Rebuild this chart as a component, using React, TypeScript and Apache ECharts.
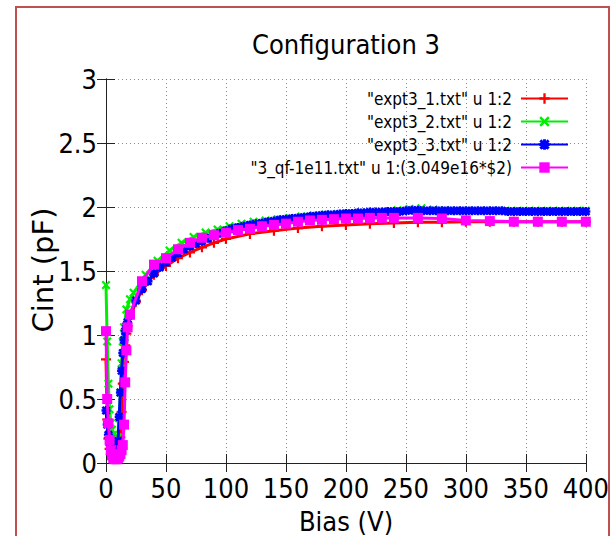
import React, { useEffect, useRef } from "react";
import * as echarts from "echarts";

const chartTitle = "Configuration 3";
const xAxisTitle = "Bias (V)";
const yAxisTitle = "Cint (pF)";
const seriesNames = [
  '"expt3_1.txt" u 1:2',
  '"expt3_2.txt" u 1:2',
  '"expt3_3.txt" u 1:2',
  '"3_qf-1e11.txt" u 1:(3.049e16*$2)',
];

const expt1Bias = [0, 1, 2, 3, 4, 5, 6, 7, 8, 9, 10, 11, 12, 13, 14, 15, 16, 17, 18, 20, 25, 30, 40, 50, 60, 70, 80, 90, 100, 120, 140, 160, 180, 200, 220, 240, 260, 280, 300, 320, 340, 360, 380, 400];
const expt1Cint = [0.81, 0.34, 0.19, 0.11, 0.07, 0.05, 0.04, 0.04, 0.04, 0.05, 0.07, 0.11, 0.2, 0.4, 0.62, 0.79, 0.92, 1.01, 1.07, 1.13, 1.26, 1.35, 1.47, 1.54, 1.6, 1.645, 1.685, 1.72, 1.75, 1.79, 1.815, 1.835, 1.85, 1.86, 1.87, 1.875, 1.88, 1.88, 1.885, 1.885, 1.885, 1.885, 1.885, 1.885];

const expt2Bias = [0, 1, 2, 3, 4, 5, 6, 7, 8, 9, 10, 11, 12, 13, 14, 15, 17, 20, 23, 33, 43, 53, 63, 73, 83, 93, 103, 113, 123, 133, 143, 153, 163, 173, 183, 193, 203, 213, 223, 233, 243, 253, 263, 273, 283, 293, 303, 313, 323, 333, 343, 353, 363, 373, 383, 393, 400];
const expt2Cint = [1.39, 0.95, 0.62, 0.42, 0.31, 0.26, 0.22, 0.19, 0.16, 0.15, 0.2, 0.35, 0.55, 0.78, 0.95, 1.06, 1.2, 1.28, 1.33, 1.47, 1.58, 1.66, 1.72, 1.765, 1.8, 1.825, 1.85, 1.87, 1.885, 1.895, 1.905, 1.915, 1.925, 1.935, 1.94, 1.945, 1.95, 1.955, 1.96, 1.965, 1.975, 1.985, 1.99, 1.98, 1.975, 1.97, 1.97, 1.97, 1.97, 1.97, 1.97, 1.97, 1.97, 1.97, 1.97, 1.97, 1.97];

const expt3Bias = [0, 1, 2, 3, 4, 5, 6, 7, 8, 9, 10, 11, 12, 13, 14, 15, 16, 17, 18, 20, 25, 30, 35, 40, 45, 50, 55, 60, 65, 70, 75, 80, 85, 90, 95, 100, 105, 110, 115, 120, 125, 130, 135, 140, 145, 150, 155, 160, 165, 170, 175, 180, 185, 190, 195, 200, 205, 210, 215, 220, 225, 230, 235, 240, 245, 250, 255, 260, 265, 270, 275, 280, 285, 290, 295, 300, 305, 310, 315, 320, 325, 330, 335, 340, 345, 350, 355, 360, 365, 370, 375, 380, 385, 390, 395, 400];
const expt3Cint = [0.41, 0.3, 0.22, 0.16, 0.12, 0.1, 0.09, 0.08, 0.08, 0.09, 0.17, 0.36, 0.55, 0.72, 0.86, 0.96, 1.03, 1.07, 1.1, 1.16, 1.27, 1.36, 1.42, 1.48, 1.53, 1.57, 1.605, 1.64, 1.67, 1.695, 1.715, 1.735, 1.755, 1.775, 1.795, 1.815, 1.83, 1.84, 1.85, 1.86, 1.87, 1.875, 1.885, 1.89, 1.9, 1.905, 1.91, 1.915, 1.92, 1.925, 1.93, 1.935, 1.94, 1.94, 1.945, 1.95, 1.95, 1.955, 1.955, 1.96, 1.96, 1.96, 1.965, 1.965, 1.965, 1.97, 1.975, 1.975, 1.97, 1.97, 1.97, 1.97, 1.97, 1.97, 1.97, 1.97, 1.97, 1.97, 1.97, 1.97, 1.97, 1.97, 1.965, 1.965, 1.965, 1.965, 1.965, 1.965, 1.965, 1.965, 1.965, 1.965, 1.965, 1.965, 1.965, 1.965];

const qfBias = [0, 1, 2, 3, 4, 5, 6, 7, 8, 9, 10, 11, 12, 13, 14, 15, 16, 17, 18, 20, 30, 40, 50, 60, 70, 80, 90, 100, 110, 120, 130, 140, 150, 160, 170, 180, 190, 200, 210, 220, 230, 240, 260, 280, 300, 320, 340, 360, 380, 400];
const qfCint = [1.03, 0.5, 0.31, 0.18, 0.1, 0.06, 0.04, 0.03, 0.03, 0.03, 0.04, 0.05, 0.07, 0.1, 0.14, 0.3, 0.63, 0.88, 1.06, 1.16, 1.42, 1.55, 1.6, 1.67, 1.72, 1.76, 1.78, 1.8, 1.82, 1.83, 1.85, 1.86, 1.87, 1.885, 1.895, 1.9, 1.905, 1.91, 1.91, 1.915, 1.915, 1.915, 1.915, 1.91, 1.895, 1.89, 1.885, 1.885, 1.885, 1.885];

const seriesColors = ["#ff0000", "#00ee00", "#0000ff", "#ff00ff"];
const FONT = "'DejaVu Sans Condensed', 'DejaVu Sans', sans-serif";

const PLUS = "path://M3.9,0H6.1V3.9H10V6.1H6.1V10H3.9V6.1H0V3.9H3.9Z";
const CROSS = "path://M0,1.7L1.7,0L5,3.3L8.3,0L10,1.7L6.7,5L10,8.3L8.3,10L5,6.7L1.7,10L0,8.3L3.3,5Z";
const STAR = "path://M3.6,0H6.4V3.6H10V6.4H6.4V10H3.6V6.4H0V3.6H3.6ZM0,2L2,0L5,3L8,0L10,2L7,5L10,8L8,10L5,7L2,10L0,8L3,5Z";

const zip = (xs: number[], ys: number[]) => xs.map((x, i) => [x, ys[i]]);

export default function App() {
  const ref = useRef<HTMLDivElement>(null);
  useEffect(() => {
    if (!ref.current) return;
    const chart = echarts.init(ref.current, null, { renderer: "svg" });
    const grid = { left: 106, top: 79, width: 480, height: 384 };
    const splitLine = { show: true, lineStyle: { color: "#8c8c8c", width: 1, type: [1, 3] as any } };
    const axisLine = { show: true, lineStyle: { color: "#222", width: 1 } };
    const axisTick = { show: true, inside: true, length: 9, lineStyle: { color: "#222", width: 1 } };
    const labelStyle = { fontSize: 27, fontFamily: FONT, color: "#000" };
    const symbols = [PLUS, CROSS, STAR, "rect"];
    const sizes = [10, 9, 9, 10];
    const datasets = [
      zip(expt1Bias, expt1Cint),
      zip(expt2Bias, expt2Cint),
      zip(expt3Bias, expt3Cint),
      zip(qfBias, qfCint),
    ];
    const rowCenters = [100, 123, 146, 169];
    chart.setOption({
      animation: false,
      backgroundColor: "#ffffff",
      title: {
        text: chartTitle,
        left: 346,
        top: 31,
        padding: 0,
        textAlign: "center",
        textStyle: { fontSize: 27, fontWeight: "normal", fontFamily: FONT, color: "#000" },
      },
      grid,
      xAxis: [
        {
          type: "value", min: 0, max: 400, interval: 50, position: "bottom",
          axisLine, axisTick, splitLine,
          axisLabel: { ...labelStyle, margin: 12 },
        },
        {
          type: "value", min: 0, max: 400, interval: 50, position: "top",
          axisLine, axisTick, splitLine: { show: false }, axisLabel: { show: false },
        },
      ],
      yAxis: [
        {
          type: "value", min: 0, max: 3, interval: 0.5, position: "left",
          axisLine, axisTick, splitLine,
          axisLabel: { ...labelStyle, margin: 9 },
        },
        {
          type: "value", min: 0, max: 3, interval: 0.5, position: "right",
          axisLine, axisTick, splitLine: { show: false }, axisLabel: { show: false },
        },
      ],
      legend: seriesNames.map((n, i) => ({
        data: [n],
        right: 43,
        top: rowCenters[i] - 10,
        orient: "horizontal",
        align: "right",
        padding: 0,
        itemWidth: 47,
        itemHeight: 13,
        selectedMode: false,
        textStyle: { fontSize: 17, fontFamily: FONT, color: "#000", padding: [0, 4, 0, 0] },
      })),
      series: seriesNames.map((n, i) => ({
        type: "line",
        name: n,
        data: datasets[i],
        xAxisIndex: 0,
        yAxisIndex: 0,
        symbol: symbols[i],
        symbolSize: sizes[i],
        showAllSymbol: true,
        clip: false,
        color: seriesColors[i],
        lineStyle: { color: seriesColors[i], width: 3 },
        itemStyle: { color: seriesColors[i] },
        z: 2 + i,
      })),
      graphic: [
        {
          type: "text",
          x: 346,
          y: 521,
          style: { text: xAxisTitle, fontSize: 27, fontFamily: FONT, fill: "#000", textAlign: "center", textVerticalAlign: "middle" },
        },
        {
          type: "text",
          x: 43,
          y: 270,
          rotation: Math.PI / 2,
          style: { text: yAxisTitle, fontSize: 29, fontFamily: "'DejaVu Sans', sans-serif", fill: "#000", textAlign: "center", textVerticalAlign: "middle" },
        },
        {
          type: "rect",
          z: 100,
          shape: { x: 610, y: 0, width: 10, height: 536 },
          style: { fill: "#ffffff" },
        },
        {
          type: "rect",
          z: 101,
          shape: { x: 16, y: 7, width: 593, height: 560 },
          style: { fill: "none", stroke: "#c0504d", lineWidth: 2 },
        },
      ],
    });
    return () => chart.dispose();
  }, []);
  return <div ref={ref} style={{ position: "absolute", left: 0, top: 0, width: 612, height: 536 }} />;
}
